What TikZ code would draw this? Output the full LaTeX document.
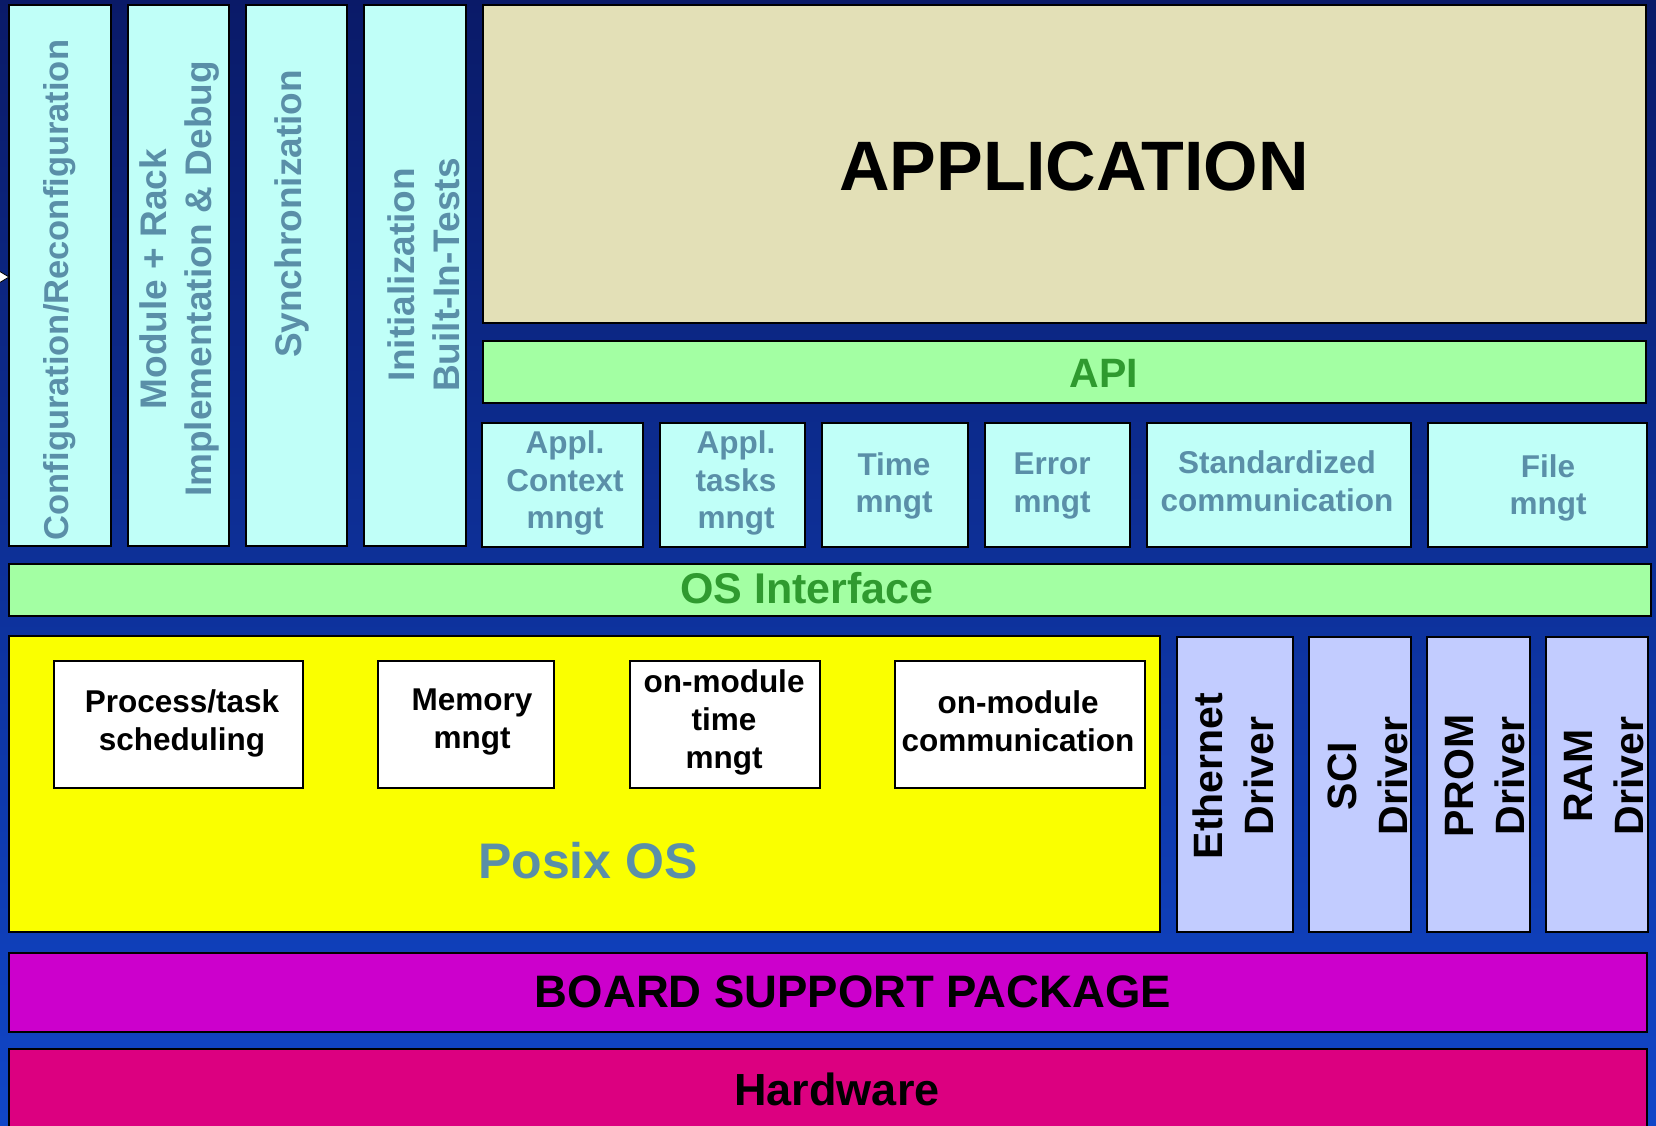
\documentclass[tikz,border=0pt]{standalone}
\usepackage{fontspec}
\setmainfont{Liberation Sans}

\definecolor{bgtop}{HTML}{0A1A68}
\definecolor{bgbot}{HTML}{1046C8}
\definecolor{cellfill}{HTML}{C0FFF8}
\definecolor{appfill}{HTML}{E3E0B7}
\definecolor{greenfill}{HTML}{A3FFA3}
\definecolor{greentext}{HTML}{2F9A2F}
\definecolor{steel}{HTML}{5A8FA8}
\definecolor{posixfill}{HTML}{FAFF00}
\definecolor{drvfill}{HTML}{C2CCFF}
\definecolor{bspfill}{HTML}{CC00CC}
\definecolor{hwfill}{HTML}{DC0080}

\begin{document}
\begin{tikzpicture}[x=1pt,y=-1pt,
  blk/.style={draw=black, line width=2.4pt, inner sep=0pt, outer sep=0pt, anchor=north west},
  cellbox/.style={blk, fill=cellfill},
  greenbar/.style={blk, fill=greenfill},
  whitebox/.style={blk, fill=white},
  drvbox/.style={blk, fill=drvfill},
  celltxt/.style={text=steel, font=\bfseries\fontsize{31.5}{37.5}\selectfont, align=center, inner sep=0pt},
  vtxt/.style={text=steel, font=\bfseries\fontsize{37}{45}\selectfont, align=center, rotate=90, inner sep=0pt},
  drvtxt/.style={text=black, font=\bfseries\fontsize{41}{51}\selectfont, align=center, rotate=90, inner sep=0pt},
  wtxt/.style={text=black, font=\bfseries\fontsize{31.5}{38}\selectfont, align=center, inner sep=0pt},
  bigtxt/.style={inner sep=0pt, font=\bfseries\fontsize{#1}{#1}\selectfont},
]
\useasboundingbox (0,0) rectangle (1656,1125);
\clip (0,0) rectangle (1656,1125);

% backdrop
\shade[top color=bgtop, bottom color=bgbot] (0,0) rectangle (1656,1125);

% vertical service columns
\node[cellbox, minimum width=102pt, minimum height=541pt] (cfg) at (9,5) {};
\node[cellbox, minimum width=101pt, minimum height=541pt] (mod) at (128,5) {};
\node[cellbox, minimum width=101pt, minimum height=541pt] (syn) at (246,5) {};
\node[cellbox, minimum width=102pt, minimum height=541pt] (ini) at (364,5) {};
\node[vtxt, anchor=base, font=\bfseries\fontsize{34.5}{42}\selectfont] (cfgT) at (68,290) {Configuration/Reconfiguration};
\node[vtxt] (modT) at (180,279) {Module + Rack\\Implementation \& Debug};
\node[vtxt, anchor=base] (synT) at (301,214) {Synchronization};
\node[vtxt] (iniT) at (423.5,275) {Initialization\\Built-In-Tests};

% application and API
\node[blk, fill=appfill, minimum width=1163pt, minimum height=318pt] (app) at (483,5) {};
\node[bigtxt=70] (appT) at (1074,166) {APPLICATION};
\node[greenbar, minimum width=1163pt, minimum height=62pt] (api) at (483,341) {};
\node[bigtxt=41, text=greentext] (apiT) at (1104,373) {API};

% application services
\node[cellbox, minimum width=161pt, minimum height=124pt] (actx) at (482,423) {};
\node[cellbox, minimum width=145pt, minimum height=124pt] (atsk) at (660,423) {};
\node[cellbox, minimum width=146pt, minimum height=124pt] (time) at (822,423) {};
\node[cellbox, minimum width=145pt, minimum height=124pt] (err) at (985,423) {};
\node[cellbox, minimum width=264pt, minimum height=124pt] (std) at (1147,423) {};
\node[cellbox, minimum width=219pt, minimum height=124pt] (file) at (1428,423) {};
\node[celltxt] (actxT) at (565,483) {Appl.\\Context\\mngt};
\node[celltxt] (atskT) at (736,483) {Appl.\\tasks\\mngt};
\node[celltxt] (timeT) at (894,486) {Time\\mngt};
\node[celltxt] (errT) at (1052,486) {Error\\mngt};
\node[celltxt] (stdT) at (1277,481) {Standardized\\communication};
\node[celltxt] (fileT) at (1548,488) {File\\mngt};

% OS interface
\node[greenbar, minimum width=1642pt, minimum height=52pt] (osi) at (9,564) {};
\node[bigtxt=43, text=greentext] (osiT) at (807,588) {OS Interface};

% Posix OS
\node[blk, fill=posixfill, minimum width=1151pt, minimum height=296pt] (posix) at (9,636) {};
\node[whitebox, minimum width=249pt, minimum height=127pt] (proc) at (54,661) {};
\node[whitebox, minimum width=176pt, minimum height=127pt] (mem) at (378,661) {};
\node[whitebox, minimum width=190pt, minimum height=127pt] (omt) at (630,661) {};
\node[whitebox, minimum width=250pt, minimum height=127pt] (omc) at (895,661) {};
\node[wtxt] (procT) at (182,723) {Process/task\\scheduling};
\node[wtxt] (memT) at (472,722) {Memory\\mngt};
\node[wtxt] (omtT) at (724,722) {on-module\\time\\mngt};
\node[wtxt] (omcT) at (1018,721) {on-module\\communication};
\node[bigtxt=50, text=steel] (posixT) at (588,861) {Posix OS};

% drivers
\node[drvbox, minimum width=116pt, minimum height=295pt] (eth) at (1177,637) {};
\node[drvbox, minimum width=102pt, minimum height=295pt] (sci) at (1309,637) {};
\node[drvbox, minimum width=103pt, minimum height=295pt] (prom) at (1427,637) {};
\node[drvbox, minimum width=102pt, minimum height=295pt] (ram) at (1546,637) {};
\node[drvtxt] (ethT) at (1233,776) {Ethernet\\Driver};
\node[drvtxt] (sciT) at (1368,776) {SCI\\Driver};
\node[drvtxt] (promT) at (1484.5,776) {PROM\\Driver};
\node[drvtxt] (ramT) at (1604.5,776) {RAM\\Driver};

% board support package and hardware
\node[blk, fill=bspfill, minimum width=1638pt, minimum height=79pt] (bsp) at (9,953) {};
\node[bigtxt=45.5] (bspT) at (853,992) {BOARD SUPPORT PACKAGE};
\node[blk, fill=hwfill, minimum width=1638pt, minimum height=100pt] (hw) at (9,1049) {};
\node[bigtxt=45] (hwT) at (837,1089) {Hardware};

% pointer tip at the left edge
\draw[fill=white, draw=black, line width=0.8pt] (-1,271) -- (9,277) -- (-1,283) -- cycle;
\end{tikzpicture}
\end{document}
